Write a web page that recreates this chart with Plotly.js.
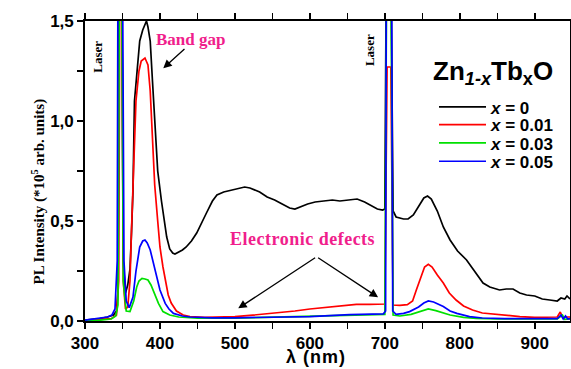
<!DOCTYPE html>
<html>
<head>
<meta charset="utf-8">
<script src="https://cdn.plot.ly/plotly-3.0.1.min.js"></script>
<style>html,body{margin:0;padding:0;background:#fff;}#chart{width:571px;height:369px;}</style>
</head>
<body>
<div id="chart"></div>
<script>
// ---- data ----
const seriesNames = ["<i>x</i> = 0", "<i>x</i> = 0.01", "<i>x</i> = 0.03", "<i>x</i> = 0.05"];
const seriesColors = ["#000000", "#ff0000", "#00e000", "#0000ff"];

const lam0 = [300,310,320,330,338,342,344,345.5,349,351,354,357,360,362,364,366,369,373,377,380,382,384,387,390,393,397,402,405,409,413,417,420,425,430,435,442,449,455,462,470,476,485,495,505,513,520,533,543,553,563,573,580,587,597,607,620,630,640,653,663,673,683,690,697,700,702,708,711,715,725,731,738,745,752,757,762,770,778,787,797,809,820,831,840,853,862,871,880,889,900,910,920,930,935,940,943,947];
const int0 = [0.005,0.008,0.012,0.02,0.03,0.05,0.15,1.8,1.8,0.3,0.14,0.18,0.26,0.44,0.65,1.1,1.25,1.4,1.455,1.48,1.5,1.47,1.4,1.2,1.0,0.75,0.6,0.52,0.42,0.36,0.34,0.335,0.345,0.355,0.37,0.4,0.44,0.49,0.54,0.6,0.63,0.645,0.655,0.665,0.67,0.665,0.645,0.62,0.605,0.585,0.565,0.56,0.57,0.585,0.595,0.6,0.605,0.6,0.605,0.61,0.595,0.575,0.56,0.555,0.56,1.8,1.8,0.55,0.52,0.51,0.51,0.53,0.57,0.615,0.625,0.61,0.55,0.47,0.405,0.35,0.305,0.25,0.19,0.17,0.155,0.16,0.16,0.14,0.13,0.125,0.11,0.105,0.1,0.115,0.11,0.125,0.11];

const lam1 = [300,320,335,342,345,346.5,349,351,354,357,360,362,364,368,372,375,380,384,387,390,393,397,400,404,407,411,415,422,431,440,460,480,500,520,540,560,580,600,620,640,662,680,695,700,703,708,711,720,730,737,742,748,753,758,763,770,778,786,795,805,817,830,853,880,900,920,930,934,937,947];
const int1 = [0.003,0.006,0.012,0.03,0.2,1.8,1.8,0.2,0.06,0.07,0.2,0.45,0.67,1.1,1.25,1.3,1.315,1.28,1.15,0.9,0.68,0.5,0.37,0.27,0.2,0.13,0.09,0.05,0.03,0.022,0.018,0.02,0.022,0.028,0.035,0.042,0.05,0.06,0.068,0.075,0.083,0.083,0.085,0.085,1.27,1.27,0.08,0.078,0.082,0.1,0.155,0.22,0.27,0.283,0.27,0.23,0.19,0.14,0.105,0.075,0.055,0.04,0.03,0.022,0.018,0.018,0.02,0.045,0.02,0.02];

const lam2 = [300,320,335,341,344,346,349,351,355,360,365,369,372,376,380,384,388,391,395,398,404,413,425,450,500,550,600,650,700,702.5,708,711,720,735,748,758,768,787,805,822,850,900,930,937,940,947];
const int2 = [0.002,0.004,0.01,0.025,0.08,1.8,1.8,0.2,0.05,0.047,0.1,0.17,0.2,0.213,0.21,0.205,0.18,0.155,0.12,0.088,0.047,0.03,0.02,0.014,0.014,0.018,0.022,0.028,0.033,1.8,1.8,0.03,0.025,0.033,0.048,0.06,0.052,0.03,0.018,0.013,0.01,0.008,0.01,0.03,0.008,0.01];

const lam3 = [300,311,320,330,336,340,343,344,350,352,355,359,364,368,373,377,380,383,387,393,400,407,412,418,430,440,470,500,550,600,653,698,701,702,709,710.5,715,725,733,745,752,758,765,778,787,796,813,830,860,900,930,935,938,941,944,947];
const int3 = [0.004,0.01,0.012,0.02,0.03,0.06,0.3,1.8,1.8,0.3,0.1,0.067,0.12,0.25,0.37,0.4,0.405,0.39,0.355,0.255,0.155,0.088,0.06,0.038,0.025,0.02,0.016,0.016,0.018,0.022,0.032,0.036,0.05,1.8,1.8,0.05,0.033,0.038,0.047,0.07,0.09,0.1,0.095,0.072,0.05,0.038,0.022,0.015,0.012,0.01,0.012,0.03,0.01,0.025,0.01,0.012];

const xs = [lam0, lam1, lam2, lam3];
const ys = [int0, int1, int2, int3];
const legendIds = ['legend', 'legend2', 'legend3', 'legend4'];
const legendRowY = [0.712, 0.653, 0.592, 0.531];

const traces = xs.map((x, i) => ({
  x: x, y: ys[i], type: 'scatter', mode: 'lines',
  name: seriesNames[i], legend: legendIds[i],
  line: {color: seriesColors[i], width: 1.7}
}));

const pink = '#f01e8c';
const serif = 'Liberation Serif, Times New Roman, serif';
const sans = 'Liberation Sans, Arial, sans-serif';

const axisCommon = {
  showline: true, linecolor: '#000', linewidth: 1.8, mirror: 'allticks',
  ticks: 'outside', ticklen: 6, tickwidth: 1.5, tickcolor: '#000',
  showgrid: false, zeroline: false,
  tickfont: {family: sans, size: 17, color: '#000', weight: 'bold'}
};

const layout = {
  width: 571, height: 369,
  margin: {l: 85, r: 1, t: 21, b: 48},
  paper_bgcolor: '#fff', plot_bgcolor: '#fff',
  separators: ',.',
  showlegend: true,
  xaxis: Object.assign({}, axisCommon, {
    range: [300, 947], dtick: 100, tick0: 300,
    minor: {dtick: 50, ticks: 'outside', ticklen: 6, tickwidth: 1.5, tickcolor: '#000'}
  }),
  yaxis: Object.assign({}, axisCommon, {
    range: [0, 1.5], dtick: 0.5, tick0: 0, tickformat: '.1f',
    minor: {dtick: 0.25, ticks: 'outside', ticklen: 6, tickwidth: 1.5, tickcolor: '#000'}
  }),
  annotations: [
    {x: 0.477, y: -0.16, xref: 'paper', yref: 'paper', yanchor: 'bottom',
     text: '<span style="letter-spacing:1px"><b>λ (nm)</b></span>', showarrow: false,
     font: {family: sans, size: 18, color: '#000'}},
    {x: -0.1216, y: 0.43, xref: 'paper', yref: 'paper', textangle: -90, showarrow: false,
     text: '<b>PL Intensity (*10<sup>5</sup> arb. units)</b>',
     font: {family: serif, size: 15, color: '#000'}},
    {x: 315.6, y: 1.32, xref: 'x', yref: 'y', text: '<b>Laser</b>', textangle: -90, showarrow: false,
     font: {family: serif, size: 13, color: '#000'}},
    {x: 679, y: 1.355, xref: 'x', yref: 'y', text: '<b>Laser</b>', textangle: -90, showarrow: false,
     font: {family: serif, size: 13, color: '#000'}},
    {x: 441, y: 1.41, xref: 'x', yref: 'y', text: '<b>Band gap</b>', showarrow: false,
     font: {family: serif, size: 17, color: pink}},
    {x: 404.4, y: 1.2635, ax: 434.7, ay: 1.3665, xref: 'x', yref: 'y', axref: 'x', ayref: 'y',
     text: '', showarrow: true, arrowhead: 2, arrowsize: 1.3, arrowwidth: 1.3, arrowcolor: '#000'},
    {x: 589.5, y: 0.41, xref: 'x', yref: 'y',
     text: '<span style="letter-spacing:0.5px"><b>Electronic defects</b></span>', showarrow: false,
     font: {family: serif, size: 18, color: pink}},
    {x: 504.4, y: 0.0635, ax: 609, ay: 0.3215, xref: 'x', yref: 'y', axref: 'x', ayref: 'y',
     text: '', showarrow: true, arrowhead: 2, arrowsize: 1.3, arrowwidth: 1.3, arrowcolor: '#000'},
    {x: 691, y: 0.1185, ax: 609, ay: 0.3215, xref: 'x', yref: 'y', axref: 'x', ayref: 'y',
     text: '', showarrow: true, arrowhead: 2, arrowsize: 1.3, arrowwidth: 1.3, arrowcolor: '#000'},
    {x: 0.713, y: 0.83, xref: 'paper', yref: 'paper', xanchor: 'left', yanchor: 'middle',
     text: '<b>Zn<sub><i>1-x</i></sub>Tb<sub>x</sub>O</b>', showarrow: false,
     font: {family: sans, size: 26, color: '#000'}}
  ]
};

legendIds.forEach((id, i) => {
  layout[id] = {
    x: 0.7196, y: legendRowY[i], xanchor: 'left', yanchor: 'middle',
    bgcolor: 'rgba(0,0,0,0)', borderwidth: 0, itemwidth: 47,
    font: {family: sans, size: 17, color: '#000', weight: 'bold'}
  };
});

Plotly.newPlot('chart', traces, layout, {displayModeBar: false, staticPlot: true});
</script>
</body>
</html>
